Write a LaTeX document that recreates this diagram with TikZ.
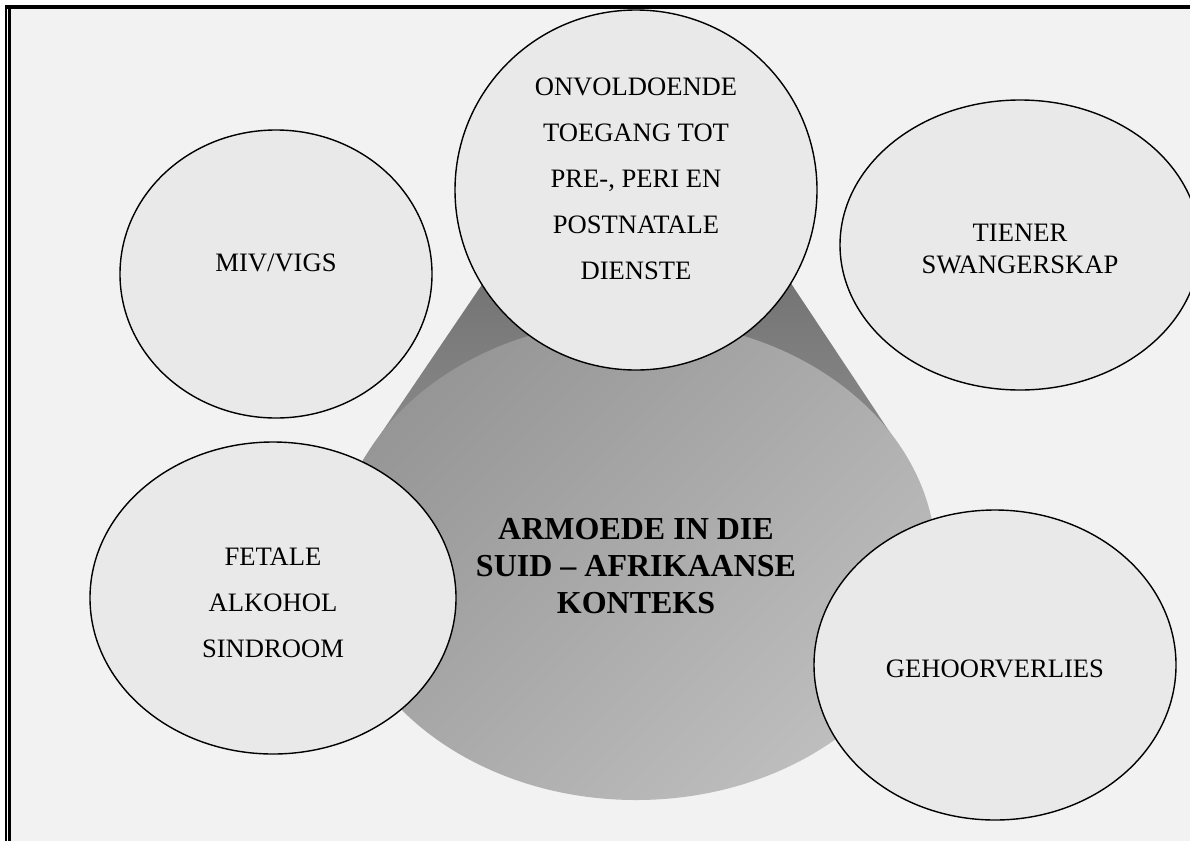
\documentclass[tikz,border=0pt]{standalone}
\usepackage{fontspec}
\setmainfont{Liberation Serif}
\usetikzlibrary{shapes.geometric}
\definecolor{pagegray}{HTML}{F2F2F2}
\definecolor{bubblegray}{HTML}{E9E9E9}
\definecolor{wedgedark}{HTML}{686868}
\definecolor{wedgelight}{HTML}{8C8C8C}
\definecolor{coredark}{HTML}{969696}
\definecolor{corelight}{HTML}{BEBEBE}

\begin{document}
\begin{tikzpicture}[x=1pt,y=-1pt,
    bubble/.style={ellipse, draw=black, line width=1.4pt, fill=bubblegray, inner sep=0pt},
    core/.style={ellipse, inner sep=0pt,
      top color=coredark, bottom color=corelight, shading angle=45},
    txt/.style={align=center, inner sep=0pt, font=\fontsize{26.6}{46}\selectfont},
    coretxt/.style={align=center, inner sep=0pt, font=\bfseries\fontsize{32}{37}\selectfont}]

        \useasboundingbox (0,0) rectangle (1190,841);
%        \draw[style=help lines, step=50] (0,0) grid (1190,841);

        % frame
        \fill[pagegray] (11,9) rectangle (1190,841);
        \draw[line width=4pt] (5,7) -- (1190,7);
        \draw[line width=1.5pt] (6,7) -- (6,841);
        \draw[line width=3pt] (9.8,9) -- (9.8,841);

        % funnel behind the centre
        \shade[top color=wedgedark, bottom color=wedgelight]
            (546,190) -- (363,460) -- (897,443) -- (729,190) -- cycle;

        \node[core, minimum width=600, minimum height=480] (armoede) at (636,560) {};
        \node[coretxt] (armoedetxt) at (636,566)
            {ARMOEDE IN DIE\\SUID -- AFRIKAANSE\\KONTEKS};

        \node[bubble, minimum width=312, minimum height=288] (vigs) at (276,274) {};
        \node[txt] (vigstxt) at (276,263) {MIV/VIGS};

        \node[bubble, minimum width=362, minimum height=360] (dienste) at (636,190) {};
        \node[txt] (dienstetxt) at (636,179)
            {ONVOLDOENDE\\TOEGANG TOT\\PRE-, PERI EN\\POSTNATALE\\DIENSTE};

        \node[bubble, minimum width=360, minimum height=290] (tiener) at (1020,245) {};
        \node[txt, font=\fontsize{26.6}{32}\selectfont] (tienertxt) at (1020,249)
            {TIENER\\SWANGERSKAP};

        \node[bubble, minimum width=366, minimum height=312] (fetaal) at (273,598) {};
        \node[txt] (fetaaltxt) at (273,603) {FETALE\\ALKOHOL\\SINDROOM};

        \node[bubble, minimum width=362, minimum height=310] (gehoor) at (995,665) {};
        \node[txt] (gehoortxt) at (995,669) {GEHOORVERLIES};

\end{tikzpicture}
\end{document}
